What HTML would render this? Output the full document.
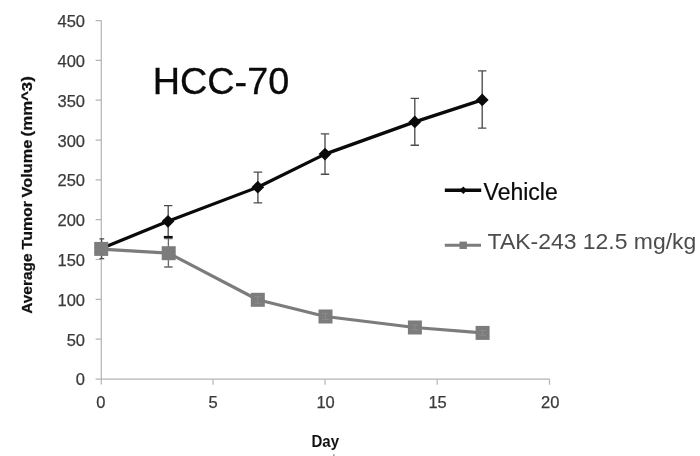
<!DOCTYPE html>
<html lang="en">
<head>
<meta charset="utf-8">
<title>HCC-70</title>
<style>
html,body{margin:0;padding:0;background:#fff;}
body{width:700px;height:456px;overflow:hidden;}
svg{display:block;}
text{font-family:"Liberation Sans",sans-serif;}
.tick{font-size:16.5px;fill:#3a3a3a;stroke:#3a3a3a;stroke-width:0.25;}
.axis{stroke:#b4b4b4;stroke-width:1.2;fill:none;}
.eb{stroke:#4c4c4c;stroke-width:1.35;fill:none;}
.ebg{stroke:#6a6a6a;stroke-width:1.35;fill:none;}
.ebl{stroke:#8e8e8e;stroke-width:0.8;fill:none;}
</style>
</head>
<body>
<svg width="700" height="456" viewBox="0 0 700 456">
<rect width="700" height="456" fill="#fff"/>

<!-- axes -->
<g class="axis">
<path d="M101.3 20.6V384.4"/>
<path d="M95.6 379.2H549.8"/>
<path d="M95.6 20.6H101.3M95.6 60.4H101.3M95.6 100.2H101.3M95.6 140.1H101.3M95.6 179.9H101.3M95.6 219.7H101.3M95.6 259.5H101.3M95.6 299.4H101.3M95.6 339.2H101.3"/>
<path d="M213 379.2V384.7M325 379.2V384.7M437.2 379.2V384.7M549.5 379.2V384.7"/>
</g>

<!-- y tick labels -->
<g class="tick" text-anchor="end">
<text x="85" y="27.0">450</text>
<text x="85" y="66.8">400</text>
<text x="85" y="106.6">350</text>
<text x="85" y="146.5">300</text>
<text x="85" y="186.3">250</text>
<text x="85" y="226.1">200</text>
<text x="85" y="265.9">150</text>
<text x="85" y="305.8">100</text>
<text x="85" y="345.6">50</text>
<text x="85" y="385.4">0</text>
</g>

<!-- x tick labels -->
<g class="tick" text-anchor="middle">
<text x="100.9" y="408">0</text>
<text x="213.2" y="408">5</text>
<text x="325.6" y="408">10</text>
<text x="437.6" y="408">15</text>
<text x="550.2" y="408">20</text>
</g>

<!-- axis titles -->
<text id="ylab" transform="rotate(-90)" font-size="15.2" font-weight="bold" fill="#111" stroke="#111" stroke-width="0.25"><tspan x="-313.8" y="31.6" textLength="60.4" lengthAdjust="spacingAndGlyphs">Average</tspan> <tspan x="-249.4" y="31.6" textLength="48.4" lengthAdjust="spacingAndGlyphs">Tumor</tspan> <tspan x="-197.4" y="31.6" textLength="57.6" lengthAdjust="spacingAndGlyphs">Volume</tspan> <tspan x="-136.4" y="31.6" textLength="60.2" lengthAdjust="spacingAndGlyphs">(mm^3)</tspan></text>
<text id="xlab" x="325.3" y="447.2" text-anchor="middle" font-size="15.6" font-weight="bold" fill="#111" textLength="27.6" lengthAdjust="spacingAndGlyphs">Day</text>
<rect x="333" y="454.3" width="1.6" height="1.7" fill="#999"/>

<!-- title -->
<text id="title" x="152.7" y="94.2" font-size="37.8" fill="#0a0a0a" stroke="#0a0a0a" stroke-width="0.3">HCC-70</text>

<!-- error bars: gray series -->
<g class="ebg">
<path d="M168.4 238.5V267M164.2 238.5H172.6M164.2 267H172.6"/>
</g>
<!-- error bars: black series -->
<g class="eb">
<path d="M101.6 238.9V258.6M99.4 238.9H104.2M99.4 258.6H104.2"/>
<path d="M168.2 205.6V237M164 205.6H172.4M164 237H172.4"/>
<path d="M257.9 172.1V202.8M253.6 172.1H262.2M253.6 202.8H262.2"/>
<path d="M325 133.9V174.2M320.8 133.9H329.2M320.8 174.2H329.2"/>
<path d="M414.8 98.3V145.2M410.6 98.3H419M410.6 145.2H419"/>
<path d="M482.2 70.9V128.1M478 70.9H486.4M478 128.1H486.4"/>
<path d="M163.8 237H172.6" stroke="#111" stroke-width="2.2"/>
</g>

<!-- gray series -->
<polyline points="101.3,249.2 168.6,253.2 257.8,299.8 325.5,316.5 414.9,327.5 482.6,332.9" fill="none" stroke="#7c7c7c" stroke-width="3.2" stroke-linejoin="round"/>
<!-- black series -->
<polyline points="101.3,248.4 168,221.3 257.8,187.2 325,154.1 414.8,121.9 482.2,99.9" fill="none" stroke="#0a0a0a" stroke-width="3.25" stroke-linejoin="round"/>

<!-- black diamonds -->
<g fill="#0a0a0a">
<path d="M168 214.9l6.4 6.4-6.4 6.4-6.4-6.4z"/>
<path d="M257.8 180.8l6.4 6.4-6.4 6.4-6.4-6.4z"/>
<path d="M325 147.7l6.4 6.4-6.4 6.4-6.4-6.4z"/>
<path d="M414.8 115.5l6.4 6.4-6.4 6.4-6.4-6.4z"/>
<path d="M482.2 93.5l6.4 6.4-6.4 6.4-6.4-6.4z"/>
</g>
<!-- gray squares -->
<g fill="#7c7c7c">
<rect x="94.2" y="241.9" width="14" height="14"/>
<rect x="161.7" y="246.2" width="14" height="14"/>
<rect x="250.8" y="292.8" width="14" height="14"/>
<rect x="318.5" y="309.5" width="14" height="14"/>
<rect x="407.9" y="320.5" width="14" height="14"/>
<rect x="475.6" y="325.9" width="14" height="14"/>
</g>

<g class="ebl">
<path d="M257.8 296.4V303.2M254.4 296.4H261.2M254.4 303.2H261.2"/>
<path d="M325.5 313.6V319.4M322.1 313.6H328.9M322.1 319.4H328.9"/>
<path d="M414.9 325V330M411.5 325H418.3M411.5 330H418.3"/>
<path d="M482.6 330.6V335.2M479.2 330.6H486M479.2 335.2H486"/>
</g>

<!-- legend -->
<path d="M444.8 190.3H481.2" stroke="#0a0a0a" stroke-width="3.4" fill="none"/>
<path d="M463.3 186.6l3.8 3.7-3.8 3.7-3.8-3.7z" fill="#0a0a0a"/>
<text id="leg1" x="483.6" y="199.6" font-size="23" fill="#0a0a0a" stroke="#0a0a0a" stroke-width="0.2">Vehicle</text>
<path d="M444.8 245.3H481" stroke="#7c7c7c" stroke-width="3" fill="none"/>
<rect x="459.5" y="241.6" width="7.4" height="7.4" fill="#7c7c7c"/>
<text id="leg2" x="487.6" y="249.4" font-size="22.95" fill="#4c4c4c">TAK-243 12.5 mg/kg</text>
</svg>
</body>
</html>
